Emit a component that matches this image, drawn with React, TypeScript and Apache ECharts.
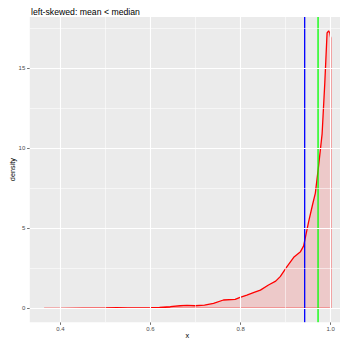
import React, { useEffect, useRef } from "react";
import * as echarts from "echarts";

const titleText = "left-skewed: mean < median";
const densityX = [0.364, 0.4, 0.45, 0.5, 0.525, 0.55, 0.6, 0.62, 0.644, 0.666, 0.681, 0.699, 0.72, 0.74, 0.762, 0.788, 0.799, 0.814, 0.83, 0.844, 0.862, 0.878, 0.888, 0.903, 0.918, 0.933, 0.94, 0.951, 0.96, 0.966, 0.973, 0.981, 0.987, 0.992, 0.9955, 0.998, 1.0];
const densityY = [0.0, 0.0, 0.01, 0.02, 0.04, 0.03, 0.04, 0.06, 0.1, 0.16, 0.19, 0.16, 0.2, 0.31, 0.52, 0.56, 0.69, 0.83, 1.0, 1.14, 1.46, 1.7, 1.98, 2.6, 3.19, 3.54, 3.9, 5.4, 6.5, 7.2, 8.85, 10.9, 14.1, 17.2, 17.33, 17.2, 16.9];
const meanValue = 0.9423;
const medianValue = 0.972;
const xTicks = [0.4, 0.6, 0.8, 1.0];
const xMinor = [0.5, 0.7, 0.9];
const yTicks = [0, 5, 10, 15];
const yMinor = [2.5, 7.5, 12.5, 17.5];

const FONT = "Liberation Sans, Arial, Helvetica, sans-serif";
const Y_MIN = -0.8665;
const Y_MAX = 18.197;

export default function App() {
  const ref = useRef<HTMLDivElement>(null);
  useEffect(() => {
    if (!ref.current) return;
    const chart = echarts.init(ref.current, undefined, { renderer: "svg" });
    const pts: number[][] = densityX.map((x, i) => [x, densityY[i]]);
    const closed = [...pts, [densityX[densityX.length - 1], 0], [densityX[0], 0]];
    const gridLine = (vals: number[], axis: "xAxis" | "yAxis", width: number) =>
      vals.map((v) => ({ [axis]: v, lineStyle: { color: "#FFFFFF", width, type: "solid", opacity: 1 } }));
    const vline = (v: number, color: string) => ({
      type: "line",
      data: [
        [v, Y_MIN],
        [v, Y_MAX],
      ],
      z: 3,
      symbol: "none",
      silent: true,
      lineStyle: { color, width: 1.3, opacity: 1 },
    });
    chart.setOption({
      animation: false,
      title: {
        text: titleText,
        left: 26,
        top: 2,
        textStyle: { fontSize: 8.7, fontWeight: "normal", color: "#000", fontFamily: FONT },
      },
      grid: {
        left: 29.8,
        right: -5,
        top: 17,
        bottom: 16.8,
        show: true,
        backgroundColor: "#EBEBEB",
        borderWidth: 0,
        containLabel: false,
        outerBoundsMode: "none",
      },
      xAxis: {
        type: "value",
        min: 0.3322,
        max: 1.0318,
        name: "x",
        nameLocation: "middle",
        nameGap: 10,
        nameMoveOverlap: false,
        nameTextStyle: { fontSize: 7.3, color: "#000", fontFamily: FONT },
        axisLine: { show: false, onZero: false },
        splitLine: { show: false },
        axisTick: { show: true, customValues: xTicks, length: 2.7, lineStyle: { color: "#333333", width: 0.7 } },
        axisLabel: {
          customValues: xTicks,
          formatter: (v: number) => v.toFixed(1),
          fontSize: 6,
          color: "#4D4D4D",
          margin: 3.5,
          fontFamily: FONT,
        },
      },
      yAxis: {
        type: "value",
        min: Y_MIN,
        max: Y_MAX,
        name: "density",
        nameLocation: "middle",
        nameGap: 14,
        nameMoveOverlap: false,
        nameRotate: 90,
        nameTextStyle: { fontSize: 7.3, color: "#000", fontFamily: FONT },
        axisLine: { show: false, onZero: false },
        splitLine: { show: false },
        axisTick: { show: true, customValues: yTicks, length: 2.7, lineStyle: { color: "#333333", width: 0.7 } },
        axisLabel: {
          customValues: yTicks,
          formatter: (v: number) => String(v),
          fontSize: 6,
          color: "#4D4D4D",
          margin: 4.5,
          fontFamily: FONT,
        },
      },
      series: [
        {
          type: "line",
          data: [],
          z: 1,
          silent: true,
          markLine: {
            silent: true,
            symbol: "none",
            label: { show: false },
            animation: false,
            data: [
              ...gridLine(xMinor, "xAxis", 0.55),
              ...gridLine(yMinor, "yAxis", 0.55),
              ...gridLine(xTicks, "xAxis", 1.1),
              ...gridLine(yTicks, "yAxis", 1.1),
            ],
          },
        },
        {
          type: "line",
          data: closed,
          z: 2,
          symbol: "none",
          smooth: false,
          silent: true,
          lineStyle: { color: "#FF0000", width: 1.3 },
          areaStyle: { color: "rgba(255,0,0,0.2)", origin: 0 },
        },
        vline(meanValue, "#0000FF"),
        vline(medianValue, "#00FF00"),
      ],
    });
    return () => chart.dispose();
  }, []);
  return <div ref={ref} style={{ width: 340, height: 339, position: "absolute", left: 0, top: 0 }} />;
}
